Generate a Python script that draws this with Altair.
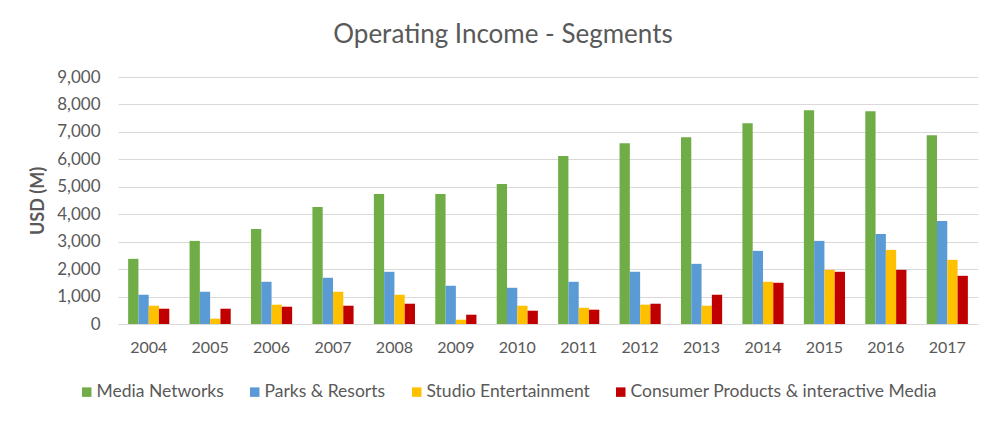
import pandas as pd
import altair as alt

years = [str(y) for y in range(2004, 2018)]
series = ["Media Networks", "Parks & Resorts", "Studio Entertainment",
          "Consumer Products & interactive Media"]
colors = ["#70AD47", "#5B9BD5", "#FFC000", "#C00000"]

media_networks = [2374, 3028, 3464, 4264, 4736, 4736, 5099, 6117, 6589, 6807, 7316, 7788, 7752, 6880]
parks_resorts = [1066, 1175, 1538, 1684, 1902, 1393, 1320, 1538, 1902, 2192, 2665, 3028, 3282, 3755]
studio_ent = [666, 194, 703, 1175, 1066, 157, 666, 593, 703, 666, 1538, 1974, 2701, 2338]
consumer_products = [557, 557, 630, 666, 739, 339, 484, 521, 739, 1066, 1502, 1902, 1974, 1756]

rows = []
for name, vals in zip(series, [media_networks, parks_resorts, studio_ent, consumer_products]):
    for yr, v in zip(years, vals):
        rows.append({"year": yr, "series": name, "value": v})
df = pd.DataFrame(rows)

font = "Lato"
grey = "#595959"

chart = alt.Chart(df).mark_bar().encode(
    x=alt.X("year:N", title=None, sort=years,
            scale=alt.Scale(paddingInner=0.33, paddingOuter=0.165),
            axis=alt.Axis(labelAngle=0, labelFontSize=16, labelColor=grey, labelFont=font,
                          labelPadding=15, ticks=False, domainColor="#D9D9D9", domainWidth=1)),
    xOffset=alt.XOffset("series:N", sort=series),
    y=alt.Y("value:Q", title="USD (M)",
            scale=alt.Scale(domain=[0, 9000]),
            axis=alt.Axis(values=list(range(0, 9001, 1000)), format=",.0f", labelFontSize=17,
                          labelColor=grey, labelFont=font, labelPadding=18, ticks=False,
                          domain=False, gridColor="#D9D9D9", gridWidth=1,
                          titleFontSize=18, titleFont=font, titleColor=grey,
                          titleFontWeight="bold", titlePadding=9)),
    color=alt.Color("series:N", sort=series,
                    scale=alt.Scale(domain=series, range=colors),
                    legend=alt.Legend(title=None, orient="none", direction="horizontal",
                                      legendX=-40, legendY=306, symbolType="square",
                                      symbolSize=90, symbolStrokeWidth=0, labelFont=font,
                                      labelFontSize=17.5, labelColor=grey, labelOffset=1,
                                      columnPadding=22, labelLimit=400)),
).properties(
    width=860,
    height=247,
    title=alt.Title("Operating Income - Segments", fontSize=26, font=font, color=grey,
                    fontWeight="normal", offset=20, dx=-45),
    padding={"left": 110, "top": 69, "right": 19, "bottom": 89},
    autosize=alt.AutoSizeParams(type="none"),
).configure_view(stroke=None)

chart.save("out.html", embed_options={"renderer": "svg", "actions": False})
